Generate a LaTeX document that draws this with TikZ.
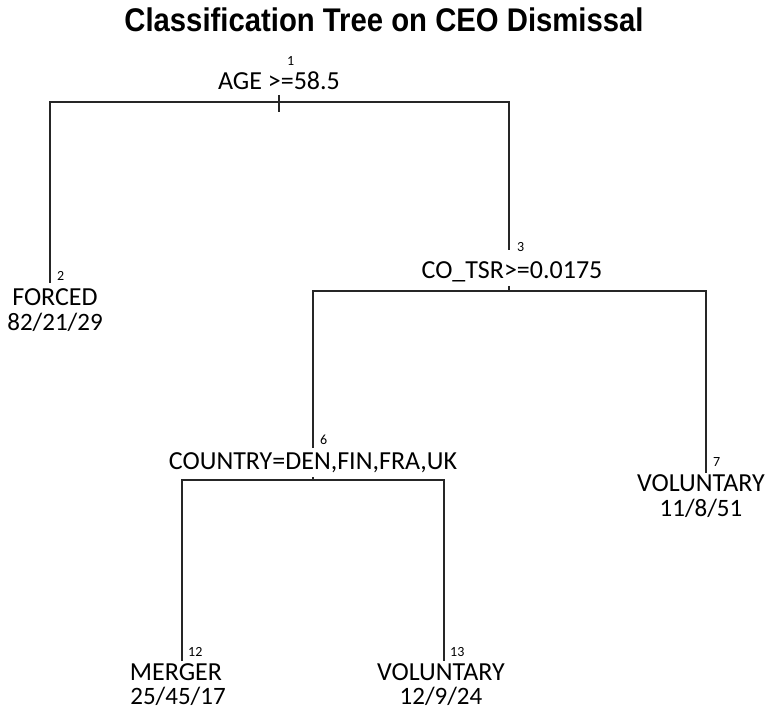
\documentclass[tikz,border=0pt]{standalone}
\usepackage{fontspec}
\setmainfont{Carlito}
\newfontfamily\titlefont{Liberation Sans}
\usetikzlibrary{positioning}

\begin{document}
\begin{tikzpicture}[x=1pt,y=-1pt]
\tikzstyle{split}=[font=\fontsize{26}{22}\selectfont,inner sep=0pt,anchor=base]
\tikzstyle{leaf}=[font=\fontsize{26}{22}\selectfont,inner sep=0pt,anchor=base,text depth=0pt]
\tikzstyle{count}=[font=\fontsize{25}{22}\selectfont,inner sep=0pt,anchor=base,text height=16pt]
\tikzstyle{num}=[font=\fontsize{14}{14}\selectfont,inner sep=0pt,anchor=base west]
\tikzstyle{branch}=[line width=1.3pt,color=black!85]

\useasboundingbox (0,0) rectangle (769,711);

\node[font=\titlefont\bfseries\fontsize{29}{30}\selectfont,anchor=base] (title) at (384,32) {\scalebox{1.01}[1.13]{Classification Tree on CEO Dismissal}};

%ends of branches and split bars
\coordinate (t1) at (279,102);
\coordinate (t2) at (50,283);
\coordinate (t3) at (509,250);
\coordinate (s3) at (509,291);
\coordinate (t6) at (313,448);
\coordinate (s6) at (313,480);
\coordinate (t7) at (706,473);
\coordinate (t12) at (182,661);
\coordinate (t13) at (444,661);

%branches
\draw[branch] (t2) -- (t2 |- t1) -- (t3 |- t1) -- (t3);
\draw[branch] (t6) -- (t6 |- s3) -- (t7 |- s3) -- (t7);
\draw[branch] (t12) -- (t12 |- s6) -- (t13 |- s6) -- (t13);

%ticks at the splits
\draw[branch] ([yshift=7pt]t1) -- ([yshift=-10pt]t1);
\draw[branch] ([yshift=5pt]s3) -- (s3);
\draw[branch] ([yshift=3pt]s6) -- (s6);

%split labels
\node[num] (k1) at (287,66) {1};
\node[split] (l1) at (279,90) {AGE >=58.5};
\node[num] (k3) at (517,252) {3};
\node[split] (l3) at (512,279) {CO\_TSR>=0.0175};
\node[num] (k6) at (320,445) {6};
\node[split] (l6) at (313,469) {COUNTRY=DEN,FIN,FRA,UK};

%leaf labels
\node[num] (k2) at (57,281) {2};
\node[leaf] (l2) at (55,306) {FORCED};
\node[count] (c2) at (55,331) {82/21/29};
\node[num] (k7) at (713,467) {7};
\node[leaf] (l7) at (701,491) {VOLUNTARY};
\node[count] (c7) at (701,516) {11/8/51};
\node[num] (k12) at (188,656) {12};
\node[leaf] (l12) at (176,680) {MERGER};
\node[count] (c12) at (178,704) {25/45/17};
\node[num] (k13) at (450,656) {13};
\node[leaf] (l13) at (441,680) {VOLUNTARY};
\node[count] (c13) at (441,704) {12/9/24};
\end{tikzpicture}
\end{document}
